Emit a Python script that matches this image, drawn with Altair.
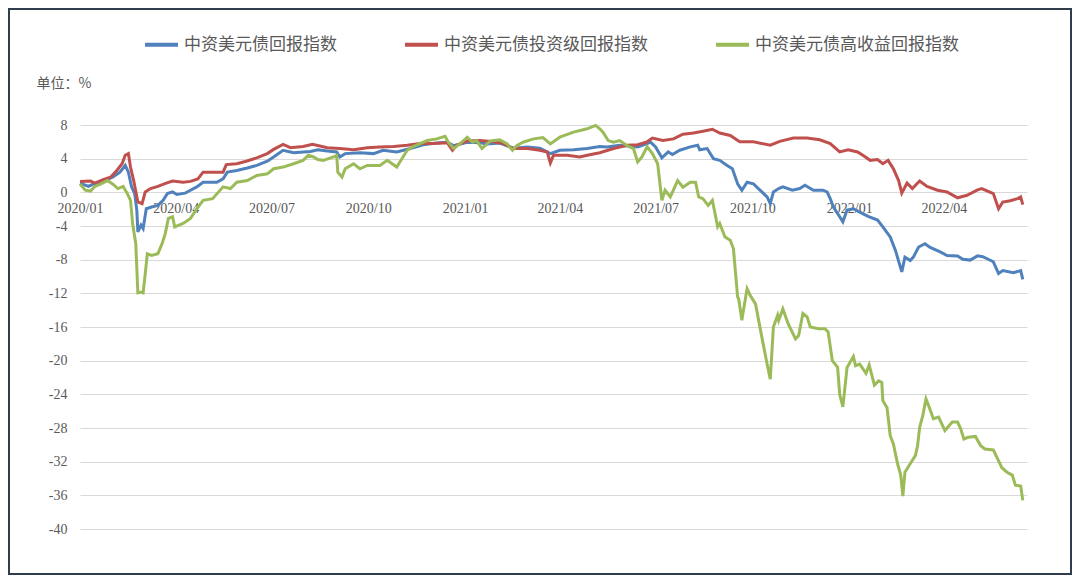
import altair as alt
import pandas as pd

SERIES = ["中资美元债回报指数", "中资美元债投资级回报指数", "中资美元债高收益回报指数"]
COLORS = ["#4F81BD", "#C0504D", "#9BBB59"]
UNIT_LABEL = "单位：%"
Y_TICKS = list(range(-40, 9, 4))

blue_dates = ["2020-01-01","2020-01-09","2020-01-13","2020-01-23","2020-02-01","2020-02-08","2020-02-13","2020-02-16","2020-02-19","2020-02-22","2020-02-24","2020-02-25","2020-02-28","2020-03-01","2020-03-04","2020-03-09","2020-03-15","2020-03-20","2020-03-24","2020-03-29","2020-04-02","2020-04-10","2020-04-15","2020-04-21","2020-04-27","2020-05-10","2020-05-16","2020-05-20","2020-05-29","2020-06-08","2020-06-17","2020-06-27","2020-07-03","2020-07-12","2020-07-22","2020-08-07","2020-08-14","2020-08-23","2020-09-01","2020-09-04","2020-09-09","2020-09-23","2020-10-06","2020-10-15","2020-10-28","2020-11-10","2020-11-22","2020-12-05","2020-12-15","2020-12-21","2021-01-03","2021-01-15","2021-01-22","2021-02-03","2021-02-16","2021-03-01","2021-03-13","2021-03-23","2021-04-01","2021-04-14","2021-04-27","2021-05-09","2021-05-16","2021-05-28","2021-06-14","2021-06-23","2021-06-26","2021-07-01","2021-07-07","2021-07-13","2021-07-17","2021-07-24","2021-08-03","2021-08-10","2021-08-12","2021-08-19","2021-08-25","2021-08-31","2021-09-07","2021-09-12","2021-09-17","2021-09-21","2021-09-26","2021-10-02","2021-10-10","2021-10-15","2021-10-18","2021-10-21","2021-10-26","2021-10-30","2021-11-08","2021-11-15","2021-11-20","2021-11-28","2021-12-07","2021-12-11","2021-12-14","2021-12-17","2021-12-23","2021-12-26","2021-12-30","2022-01-05","2022-01-11","2022-01-19","2022-01-28","2022-02-02","2022-02-09","2022-02-14","2022-02-20","2022-02-23","2022-02-28","2022-03-03","2022-03-08","2022-03-14","2022-03-19","2022-03-29","2022-04-04","2022-04-14","2022-04-19","2022-04-26","2022-05-03","2022-05-08","2022-05-18","2022-05-23","2022-05-27","2022-06-06","2022-06-13","2022-06-15"]
blue_vals = [1.1,0.7,0.95,1.35,1.8,2.4,3.2,2.4,0.65,-0.15,-2.15,-4.7,-3.9,-4.3,-1.95,-1.75,-1.55,-0.95,-0.15,0.05,-0.25,-0.1,0.25,0.65,1.2,1.2,1.6,2.4,2.6,2.9,3.2,3.7,4.2,5.0,4.7,4.85,5.05,4.9,4.8,4.2,4.6,4.7,4.6,5.0,4.8,5.2,5.65,5.85,5.95,5.55,5.95,5.9,5.75,5.85,5.25,5.4,5.25,4.6,5.0,5.05,5.2,5.45,5.4,5.6,5.4,5.8,6.0,5.4,4.1,4.8,4.5,5.0,5.4,5.6,5.05,5.2,4.0,3.8,3.2,2.8,1.0,0.25,1.2,1.0,0.05,-0.55,-1.35,0.05,0.45,0.65,0.25,0.45,0.85,0.25,0.25,0.05,-0.75,-1.75,-2.9,-3.5,-2.1,-1.95,-2.35,-2.85,-3.3,-4.1,-5.3,-6.9,-9.45,-7.7,-8.1,-7.7,-6.5,-6.1,-6.55,-7.1,-7.5,-7.55,-7.95,-8.05,-7.55,-7.65,-8.25,-9.65,-9.3,-9.55,-9.3,-10.35]

red_dates = ["2020-01-01","2020-01-11","2020-01-15","2020-01-23","2020-01-30","2020-02-05","2020-02-10","2020-02-13","2020-02-16","2020-02-18","2020-02-21","2020-02-25","2020-02-29","2020-03-03","2020-03-08","2020-03-15","2020-03-23","2020-03-29","2020-04-08","2020-04-15","2020-04-22","2020-04-27","2020-05-10","2020-05-16","2020-05-19","2020-05-29","2020-06-07","2020-06-17","2020-06-27","2020-07-03","2020-07-12","2020-07-19","2020-07-31","2020-08-09","2020-08-23","2020-09-04","2020-09-17","2020-09-30","2020-10-12","2020-10-25","2020-11-07","2020-11-19","2020-12-02","2020-12-15","2020-12-20","2020-12-24","2021-01-03","2021-01-15","2021-01-28","2021-02-06","2021-02-16","2021-03-01","2021-03-13","2021-03-20","2021-03-23","2021-03-26","2021-04-08","2021-04-20","2021-04-27","2021-05-09","2021-05-22","2021-06-04","2021-06-14","2021-06-23","2021-06-28","2021-07-08","2021-07-18","2021-07-27","2021-08-06","2021-08-15","2021-08-24","2021-08-31","2021-09-10","2021-09-19","2021-10-02","2021-10-18","2021-10-27","2021-11-09","2021-11-22","2021-12-04","2021-12-14","2021-12-23","2021-12-31","2022-01-09","2022-01-14","2022-01-21","2022-01-28","2022-02-02","2022-02-07","2022-02-12","2022-02-17","2022-02-20","2022-02-25","2022-03-02","2022-03-09","2022-03-16","2022-03-26","2022-04-04","2022-04-14","2022-04-23","2022-05-03","2022-05-07","2022-05-18","2022-05-23","2022-05-27","2022-06-03","2022-06-10","2022-06-13","2022-06-15"]
red_vals = [1.3,1.35,1.1,1.5,1.8,2.6,3.4,4.4,4.6,3.0,1.4,-1.15,-1.35,0.05,0.45,0.7,1.1,1.35,1.2,1.3,1.6,2.4,2.4,2.4,3.3,3.4,3.7,4.1,4.6,5.1,5.7,5.3,5.45,5.7,5.3,5.2,5.05,5.3,5.4,5.45,5.6,5.8,5.8,5.9,5.0,5.6,6.1,6.15,6.0,5.8,5.2,5.2,5.0,4.8,3.5,4.4,4.4,4.2,4.4,4.7,5.2,5.6,5.65,6.0,6.45,6.15,6.35,6.9,7.05,7.25,7.5,7.05,6.75,6.0,6.0,5.6,6.05,6.45,6.45,6.25,5.8,4.8,5.05,4.8,4.4,3.8,3.9,3.4,3.8,2.8,1.4,-0.1,1.1,0.45,1.35,0.7,0.25,0.05,-0.65,-0.35,0.3,0.45,-0.15,-1.95,-1.15,-1.0,-0.75,-0.55,-1.45]

green_dates = ["2020-01-01","2020-01-06","2020-01-11","2020-01-15","2020-01-20","2020-01-27","2020-02-01","2020-02-06","2020-02-11","2020-02-15","2020-02-18","2020-02-20","2020-02-23","2020-02-25","2020-02-28","2020-03-01","2020-03-03","2020-03-05","2020-03-09","2020-03-15","2020-03-19","2020-03-22","2020-03-25","2020-03-29","2020-03-31","2020-04-08","2020-04-15","2020-04-21","2020-04-27","2020-05-06","2020-05-16","2020-05-23","2020-05-29","2020-06-08","2020-06-17","2020-06-27","2020-07-03","2020-07-12","2020-07-22","2020-07-31","2020-08-05","2020-08-10","2020-08-14","2020-08-19","2020-08-29","2020-09-01","2020-09-02","2020-09-06","2020-09-09","2020-09-17","2020-09-23","2020-09-30","2020-10-12","2020-10-19","2020-10-28","2020-10-31","2020-11-07","2020-11-12","2020-11-26","2020-12-05","2020-12-13","2020-12-16","2020-12-21","2020-12-27","2021-01-03","2021-01-08","2021-01-12","2021-01-17","2021-01-25","2021-02-03","2021-02-10","2021-02-15","2021-02-19","2021-02-25","2021-03-07","2021-03-16","2021-03-23","2021-04-01","2021-04-14","2021-04-27","2021-05-05","2021-05-09","2021-05-12","2021-05-17","2021-05-22","2021-05-28","2021-06-04","2021-06-10","2021-06-14","2021-06-18","2021-06-23","2021-06-28","2021-07-03","2021-07-07","2021-07-10","2021-07-15","2021-07-22","2021-07-27","2021-08-03","2021-08-08","2021-08-11","2021-08-15","2021-08-20","2021-08-24","2021-08-29","2021-08-31","2021-09-05","2021-09-10","2021-09-13","2021-09-17","2021-09-18","2021-09-21","2021-09-22","2021-09-26","2021-09-29","2021-10-04","2021-10-10","2021-10-15","2021-10-18","2021-10-21","2021-10-25","2021-10-26","2021-10-30","2021-11-04","2021-11-11","2021-11-14","2021-11-18","2021-11-22","2021-11-25","2021-12-03","2021-12-09","2021-12-12","2021-12-16","2021-12-21","2021-12-23","2021-12-26","2021-12-30","2022-01-05","2022-01-07","2022-01-11","2022-01-17","2022-01-20","2022-01-25","2022-01-29","2022-02-01","2022-02-02","2022-02-06","2022-02-09","2022-02-12","2022-02-16","2022-02-19","2022-02-21","2022-02-23","2022-02-28","2022-03-05","2022-03-07","2022-03-09","2022-03-12","2022-03-15","2022-03-18","2022-03-22","2022-03-27","2022-04-02","2022-04-09","2022-04-14","2022-04-17","2022-04-20","2022-04-24","2022-05-01","2022-05-06","2022-05-10","2022-05-18","2022-05-23","2022-05-26","2022-05-31","2022-06-05","2022-06-08","2022-06-13","2022-06-15"]
green_vals = [1.0,0.25,0.15,0.7,0.95,1.4,1.0,0.45,0.7,-0.15,-0.95,-3.7,-6.1,-11.95,-11.85,-11.95,-9.65,-7.3,-7.5,-7.3,-6.1,-4.9,-3.1,-2.9,-4.1,-3.7,-3.1,-1.95,-0.95,-0.75,0.65,0.45,1.2,1.4,2.0,2.2,2.8,3.0,3.4,3.8,4.4,4.2,3.9,3.8,4.2,4.4,2.4,1.8,2.8,3.4,2.8,3.2,3.2,3.8,3.0,3.6,5.0,5.4,6.15,6.35,6.65,5.95,5.2,5.75,6.55,5.95,6.15,5.2,6.1,6.25,5.75,5.0,5.55,5.95,6.35,6.5,5.75,6.55,7.15,7.55,7.95,7.55,7.15,6.15,5.95,6.15,5.55,5.2,3.6,4.2,5.4,4.6,3.4,-0.95,0.25,-0.55,1.4,0.6,1.2,1.2,-0.55,-0.75,-1.55,-0.95,-4.1,-3.7,-5.3,-5.7,-6.7,-12.45,-12.65,-15.2,-14.4,-11.45,-12.25,-13.25,-17.2,-20.4,-22.2,-16.0,-14.6,-15.2,-13.85,-15.6,-17.4,-17.0,-14.4,-14.8,-16.0,-16.2,-16.2,-16.6,-20.0,-20.8,-24.0,-25.5,-20.8,-19.5,-20.6,-20.4,-21.5,-20.5,-22.9,-22.4,-22.6,-24.75,-25.6,-28.9,-29.9,-32.25,-33.6,-36.1,-33.25,-32.25,-31.25,-30.1,-27.9,-26.5,-24.55,-25.5,-26.9,-26.7,-28.3,-27.3,-27.3,-28.1,-29.3,-29.1,-29.0,-30.1,-30.5,-30.6,-31.9,-32.7,-33.25,-33.6,-34.8,-34.9,-36.6]

frames = []
for name, d, v in zip(SERIES, [blue_dates, red_dates, green_dates], [blue_vals, red_vals, green_vals]):
    frames.append(pd.DataFrame({"date": pd.to_datetime(d), "value": v, "series": name}))
df = pd.concat(frames, ignore_index=True)

W, H = 947, 404
PAD = {"left": 72, "top": 117, "right": 45, "bottom": 46}
GRAY = "#595959"
SERIF = "Liberation Serif"
CJK = "Noto Sans CJK SC"

lines = alt.Chart(df).mark_line(strokeWidth=3).encode(
    x=alt.X(
        "date:T",
        scale=alt.Scale(domain=[alt.DateTime(year=2020, month=1, date=1),
                                alt.DateTime(year=2022, month=6, date=19)]),
        axis=alt.Axis(format="%Y/%m", tickCount={"interval": "month", "step": 3},
                      grid=False, domain=False, ticks=False, labelPadding=9,
                      offset=-337, title=None, labelFont=SERIF, labelFontSize=14,
                      labelColor=GRAY, labelOverlap=False, labelFlush=False),
    ),
    y=alt.Y(
        "value:Q",
        scale=alt.Scale(domain=[-40, 8], nice=False, zero=False),
        axis=alt.Axis(values=Y_TICKS, labelExpr="datum.value + ''",
                      title=UNIT_LABEL, titleAngle=0, titleX=-44, titleY=-42,
                      titleAlign="left", titleBaseline="middle", titleFont=CJK,
                      titleFontSize=14, titleFontWeight="normal", titleColor=GRAY,
                      grid=True, gridColor="#d9d9d9", gridWidth=1, domain=False,
                      ticks=False, labelPadding=13, labelFont=SERIF,
                      labelFontSize=14, labelColor=GRAY),
    ),
    color=alt.Color(
        "series:N", sort=SERIES,
        scale=alt.Scale(domain=SERIES, range=COLORS),
        legend=alt.Legend(title=None, orient="none", legendX=63, legendY=-99,
                          direction="horizontal", symbolType="stroke",
                          symbolSize=1089, symbolStrokeWidth=4, labelFont=CJK,
                          labelFontSize=17, labelColor=GRAY, columnPadding=60,
                          labelOffset=4, padding=0, labelLimit=400),
    ),
)

frame = alt.Chart(pd.DataFrame({"k": [0]})).mark_rect(
    filled=False, stroke="#2f3d4f", strokeWidth=2
).encode(
    x=alt.value(-71), x2=alt.value(W + PAD["right"] - 1),
    y=alt.value(-PAD["top"] + 1), y2=alt.value(H + PAD["bottom"] - 1),
)

chart = alt.layer(lines, frame).properties(
    width=W, height=H, padding=PAD,
    autosize=alt.AutoSizeParams(type="none"),
).configure(background="white").configure_view(strokeWidth=0)

chart.save("out.html", embed_options={"renderer": "svg", "actions": False})
